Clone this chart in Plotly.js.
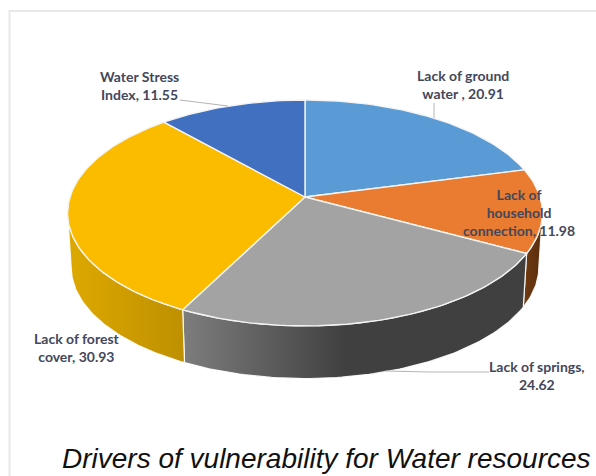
<!DOCTYPE html>
<html>
<head>
<meta charset="utf-8">
<script src="https://cdn.plot.ly/plotly-3.0.1.min.js"></script>
<style>html,body{margin:0;padding:0;background:#fff}</style>
</head>
<body>
<div id="chart" style="width:596px;height:476px"></div>
<script>
// Slice data, clockwise from twelve o'clock
const categories = ['Lack of ground water', 'Lack of household connection', 'Lack of springs', 'Lack of forest cover', 'Water Stress Index'];
const values = [20.91, 11.98, 24.62, 30.93, 11.55];
const labelLines = [
  ['Lack of ground', 'water , 20.91'],
  ['Lack of', 'household', 'connection, 11.98'],
  ['Lack of springs,', '24.62'],
  ['Lack of forest', 'cover, 30.93'],
  ['Water Stress', 'Index, 11.55']
];
const labelX = [463, 519, 537, 77, 139];
const labelY = [84, 212, 375, 347, 85.5];
const topColors = ['#5B9BD5', '#E97C30', '#A3A3A3', '#FBBC00', '#4270C0'];
const sideLeftColors = ['#3B6A96', '#6E3A12', '#7C7C7C', '#DDA800', '#2E4F88'];
const sideRightColors = ['#3B6A96', '#5C2E0C', '#404040', '#BE9000', '#2E4F88'];
const sideStops = [[304, 524], [524, 541], [185, 345], [70, 185], [165, 304]];

// Tilted disc: perspective projection of a unit circle
const CX = 305, CY = 197, AX = 235, AY = 110.7, PERSP = 0.1416;
const DEPTH = 54.5, SHRINK = 0.985;

// Only the part of the rim between the two horizontal extremes faces the viewer
const RIM_START = Math.acos(-PERSP) / (2 * Math.PI), RIM_END = 1 - RIM_START;

function project(turn, lower) {
  const t = turn * 2 * Math.PI, u = Math.sin(t), v = Math.cos(t), w = 1 + PERSP * v;
  const x = AX * u / w, y = -AY * v / w;
  return lower ? [CX + x * SHRINK, CY + DEPTH + y * SHRINK] : [CX + x, CY + y];
}
function arc(a, b, lower) {
  const n = Math.max(8, Math.ceil((b - a) * 360));
  const pts = [];
  for (let i = 0; i <= n; i++) pts.push(project(a + (b - a) * i / n, lower));
  return pts;
}

const total = values.reduce((s, v) => s + v, 0);
const sides = [], tops = [];
let acc = 0;
values.forEach((val, i) => {
  const a = acc / total, b = (acc + val) / total;
  acc += val;
  const ra = Math.max(a, RIM_START), rb = Math.min(b, RIM_END);
  if (rb > ra) {
    const upper = arc(ra, rb, false), lower = arc(ra, rb, true).reverse();
    const rim = upper.concat(lower, [upper[0]]);
    sides.push({
      type: 'scatter', mode: 'lines', name: categories[i], showlegend: false, hoverinfo: 'skip',
      x: rim.map(p => p[0]), y: rim.map(p => p[1]),
      line: {color: 'rgba(255,255,255,0.9)', width: 1.2},
      fill: 'toself',
      fillgradient: {
        type: 'horizontal',
        colorscale: [[0, sideLeftColors[i]], [1, sideRightColors[i]]],
        start: sideStops[i][0], stop: sideStops[i][1]
      }
    });
  }
  const wedge = [[CX, CY]].concat(arc(a, b, false), [[CX, CY]]);
  tops.push({
    type: 'scatter', mode: 'lines', name: categories[i], showlegend: false, hoverinfo: 'skip',
    x: wedge.map(p => p[0]), y: wedge.map(p => p[1]),
    line: {color: '#F4F4F4', width: 1.4},
    fill: 'toself', fillcolor: topColors[i]
  });
});

// Rim faces go underneath the top surface
const traces = sides.concat(tops);

const annotations = labelLines.map((lines, i) => ({
  xref: 'x', yref: 'y', x: labelX[i], y: labelY[i],
  text: lines.join('<br>'), showarrow: false,
  xanchor: 'center', yanchor: 'middle', align: 'center',
  font: {family: 'Lato, sans-serif', size: 14, weight: 700, color: '#44475A'}
}));
annotations.push({
  xref: 'x', yref: 'y', x: 326, y: 458,
  text: '<i>Drivers of vulnerability for Water resources</i>', showarrow: false,
  xanchor: 'center', yanchor: 'middle',
  font: {family: 'Liberation Sans, Arial, sans-serif', size: 28, color: '#111111'}
});

const leaderStyle = {color: '#B4B4B4', width: 1};
const layout = {
  width: 596, height: 476,
  margin: {l: 0, r: 0, t: 0, b: 0},
  paper_bgcolor: '#FFFFFF', plot_bgcolor: '#FFFFFF',
  showlegend: false,
  xaxis: {range: [0, 596], visible: false, fixedrange: true},
  yaxis: {range: [476, 0], visible: false, fixedrange: true},
  shapes: [
    {type: 'rect', xref: 'x', yref: 'y', x0: 9.5, y0: 11, x1: 640, y1: 520, line: {color: '#E8E8E8', width: 2}, layer: 'below'},
    {type: 'line', xref: 'x', yref: 'y', x0: 180, y0: 100, x1: 228, y1: 106, line: leaderStyle},
    {type: 'line', xref: 'x', yref: 'y', x0: 434, y0: 103, x1: 434, y1: 118, line: leaderStyle},
    {type: 'path', xref: 'x', yref: 'y', path: 'M 489 372 L 430 372 L 385 371', line: leaderStyle}
  ],
  annotations: annotations
};

Plotly.newPlot('chart', traces, layout, {displayModeBar: false, staticPlot: true});
</script>
</body>
</html>
